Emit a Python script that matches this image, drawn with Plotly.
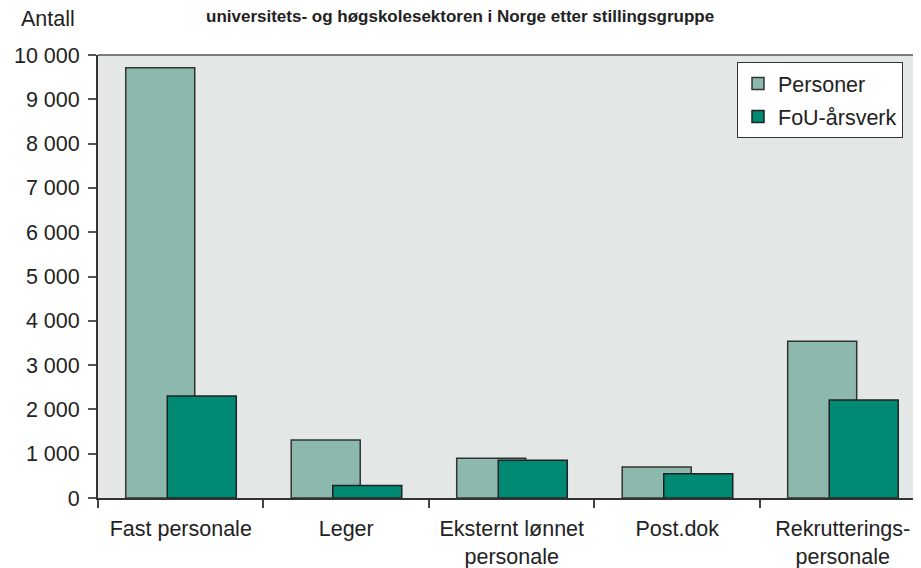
import plotly.graph_objects as go

categories = ["Fast personale", "Leger", "Eksternt lønnet<br>personale", "Post.dok", "Rekrutterings-<br>personale"]
personer = [9710, 1310, 900, 700, 3540]
fou_arsverk = [2300, 280, 850, 550, 2210]
y_tickvals = [0, 1000, 2000, 3000, 4000, 5000, 6000, 7000, 8000, 9000, 10000]
y_ticktext = ["0", "1 000", "2 000", "3 000", "4 000", "5 000", "6 000", "7 000", "8 000", "9 000", "10 000"]

FONT = "Liberation Sans, Arial, sans-serif"
W = 0.417
FS = 21.5

# page has an 8px body margin: figure coords = page coords - 8
L, T, PW, PH = 90, 47, 823, 443

fig = go.Figure()
fig.add_trace(go.Bar(
    x=categories, y=personer, name="Personer",
    width=W, offset=-0.3325,
    marker=dict(color="#8DB8AE", line=dict(color="#333333", width=1.5)),
    legendgroup="a",
))
fig.add_trace(go.Bar(
    x=categories, y=fou_arsverk, name="FoU-årsverk",
    width=W, offset=-0.0815,
    marker=dict(color="#008A74", line=dict(color="#222222", width=1.5)),
    legendgroup="b",
))

fig.update_layout(
    width=913, height=560,
    margin=dict(l=L, r=0, t=T, b=560 - T - PH, autoexpand=False),
    barmode="overlay",
    paper_bgcolor="white",
    plot_bgcolor="#E3E8E6",
    font=dict(family=FONT, size=FS, color="#222222"),
    showlegend=True,
    legend=dict(
        x=(729 - L) / PW, xanchor="left", y=(T + PH - 54) / PH, yanchor="top",
        bgcolor="white", bordercolor="#333333", borderwidth=1,
        font=dict(size=FS, color="#222222"),
        traceorder="grouped", tracegroupgap=2,
    ),
    xaxis=dict(
        type="category",
        range=[-0.5, 4.473],
        tickson="boundaries",
        ticks="outside", ticklen=8, tickcolor="#444444", tickwidth=1.5,
        showline=True, linecolor="#333333", linewidth=2,
        showgrid=False, zeroline=False, automargin=False,
        ticklabelstandoff=10,
        tickfont=dict(size=FS, color="#222222"),
    ),
    yaxis=dict(
        range=[0, 10000],
        tickvals=y_tickvals, ticktext=y_ticktext,
        ticks="outside", ticklen=8, tickcolor="#555555", tickwidth=1.5,
        showline=True, linecolor="#333333", linewidth=2,
        showgrid=False, zeroline=False, automargin=False,
        ticklabelstandoff=4,
        tickfont=dict(size=FS, color="#222222"),
    ),
    shapes=[dict(type="line", xref="paper", yref="paper", x0=0, x1=1, y0=1, y1=1,
                 line=dict(color="#555555", width=1.5))],
    annotations=[
        dict(text="Antall", xref="paper", yref="paper", x=-L / PW, y=1 + 36 / PH,
             xanchor="left", yanchor="middle", showarrow=False,
             font=dict(size=FS, color="#222222"), xshift=11),
        dict(text="<b>universitets- og høgskolesektoren i Norge etter stillingsgruppe</b>",
             xref="paper", yref="paper", x=(452 - L) / PW, y=1 + 38 / PH,
             xanchor="center", yanchor="middle", showarrow=False,
             font=dict(size=17, color="#222222")),
    ],
)

fig.write_html("out.html")
